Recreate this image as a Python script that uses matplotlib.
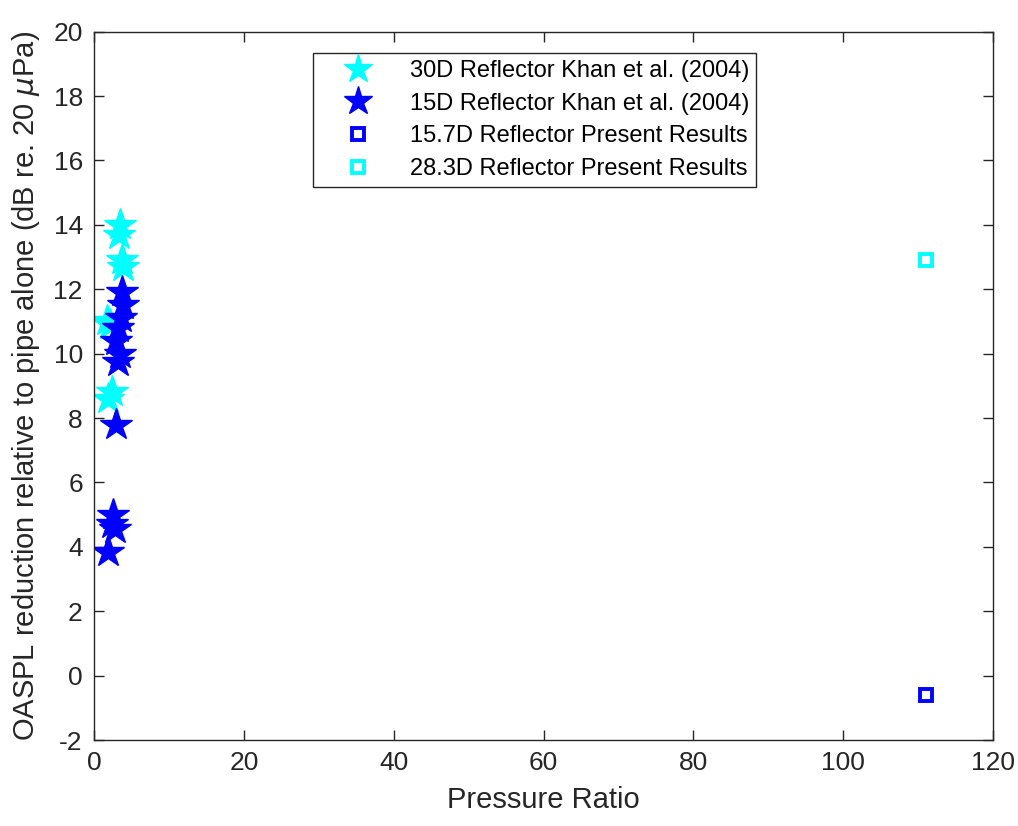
import numpy as np
import matplotlib
matplotlib.use('Agg')
import matplotlib.pyplot as plt

plt.rcParams['font.family'] = ['Liberation Sans', 'DejaVu Sans']
plt.rcParams['mathtext.fontset'] = 'dejavusans'
plt.rcParams['axes.unicode_minus'] = False

# Khan et al. (2004) reflector measurements
pr_30d = [3.5, 3.3, 3.7, 3.9, 1.7, 2.1, 2.4, 1.9]
red_30d = [14.0, 13.7, 12.9, 12.7, 11.0, 10.9, 8.8, 8.6]

pr_15d = [3.8, 3.9, 3.6, 3.2, 3.0, 3.5, 3.2, 3.0, 2.6, 2.4, 2.8, 1.9]
red_15d = [11.9, 11.5, 11.1, 10.8, 10.4, 10.0, 9.75, 7.8, 5.0, 4.7, 4.55, 3.85]

# present results
pr_157 = [111.0]
red_157 = [-0.6]
pr_283 = [111.0]
red_283 = [12.9]

cyan = '#00ffff'
blue = '#0000ff'
dark = '#262626'

fig = plt.figure(figsize=(10.18, 8.26), dpi=100)
ax = fig.add_axes([0.0923, 0.1041, 0.8834, 0.8575])

ax.plot(pr_30d, red_30d, '*', color=cyan, ms=24, mec=cyan, ls='none',
        label='30D Reflector Khan et al. (2004)')
ax.plot(pr_15d, red_15d, '*', color=blue, ms=24, mec=blue, ls='none',
        label='15D Reflector Khan et al. (2004)')
ax.plot(pr_157, red_157, 's', color=blue, mfc='none', ms=8, mew=2.8, ls='none',
        label='15.7D Reflector Present Results')
ax.plot(pr_283, red_283, 's', color=cyan, mfc='none', ms=8, mew=2.8, ls='none',
        label='28.3D Reflector Present Results')

ax.set_xlim(0, 120)
ax.set_ylim(-2, 20)
ax.set_xticks(np.arange(0, 121, 20))
ax.set_yticks(np.arange(-2, 21, 2))
ax.tick_params(direction='in', top=True, right=True, length=7, width=1,
               colors=dark, labelsize=19, pad=8)
for sp in ax.spines.values():
    sp.set_color(dark)
    sp.set_linewidth(1)

ax.set_xlabel('Pressure Ratio', fontsize=21, color=dark, labelpad=8)
ax.set_ylabel(r'OASPL reduction relative to pipe alone (dB re. 20 $\mu$Pa)',
              fontsize=21, color=dark, labelpad=8)

leg = ax.legend(loc='upper left', bbox_to_anchor=(0.2435, 0.970), fontsize=17,
                frameon=True, fancybox=False, edgecolor=dark, framealpha=1,
                borderaxespad=0, borderpad=0.3, handletextpad=0.6,
                labelspacing=0.45, markerscale=1.0, handlelength=3.2)
leg.get_frame().set_linewidth(1)
for h in leg.legend_handles[:2]:
    h.set_markersize(21)

fig.savefig('out.png', dpi=100)
